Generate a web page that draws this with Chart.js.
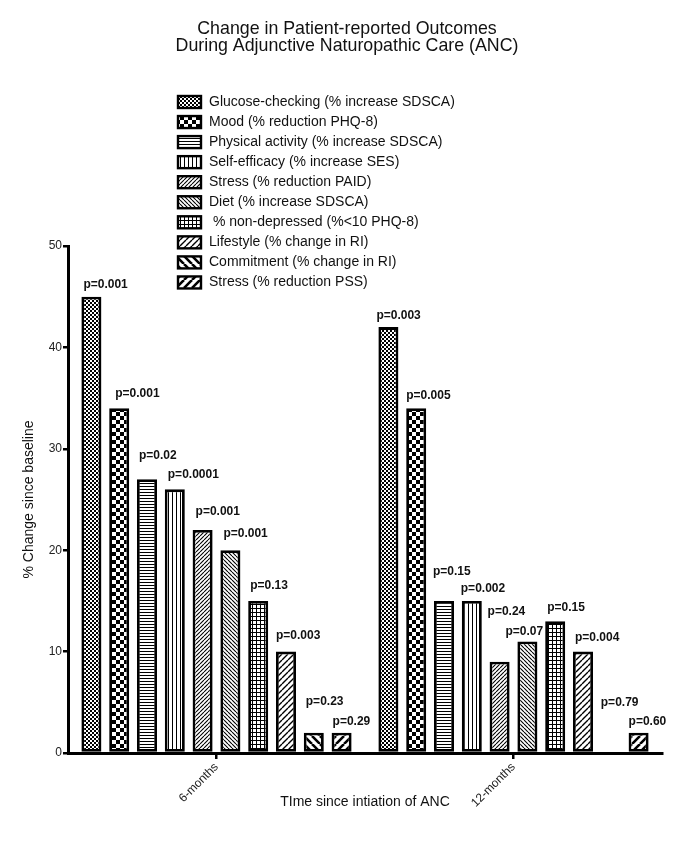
<!DOCTYPE html>
<html>
<head>
<meta charset="utf-8">
<title>Change in Patient-reported Outcomes</title>
<script src="https://cdn.jsdelivr.net/npm/chart.js@4/dist/chart.umd.min.js"></script>
<style>
  html, body { margin: 0; padding: 0; background: #fff; }
  #wrap { width: 685px; height: 850px; position: relative; }
</style>
</head>
<body>
<div id="wrap"><canvas id="ancChart"></canvas></div>
<script>
// data
const periods = ["6-months", "12-months"];
const outcomes = [
  "Glucose-checking (% increase SDSCA)",
  "Mood (% reduction PHQ-8)",
  "Physical activity (% increase SDSCA)",
  "Self-efficacy (% increase SES)",
  "Stress (% reduction PAID)",
  "Diet (% increase SDSCA)",
  " % non-depressed (%<10 PHQ-8)",
  "Lifestyle (% change in RI)",
  "Commitment (% change in RI)",
  "Stress (% reduction PSS)"
];
const sixMonths    = [45, 34, 27, 26, 22, 20, 15, 10, 2, 2];
const twelveMonths = [42, 34, 15, 15, 9, 11, 13, 10, 0, 2];
const pSixMonths    = ["p=0.001", "p=0.001", "p=0.02", "p=0.0001", "p=0.001", "p=0.001", "p=0.13", "p=0.003", "p=0.23", "p=0.29"];
const pTwelveMonths = ["p=0.003", "p=0.005", "p=0.15", "p=0.002", "p=0.24", "p=0.07", "p=0.15", "p=0.004", "p=0.79", "p=0.60"];
const yTicks = [0, 10, 20, 30, 40, 50];

// label placement (px above bar top, px right of bar left) — hand-staggered like the original
const pLift = [[12, 15, 24, 15, 18, 17, 15, 16, 31, 11], [11, 13, 29, 12, 50, 10, 13, 14, 50, 11]];
const pShift = [[2, 6, 2, 3, 3, 3, 2, 0, 2, 1], [-2, 0, -1, -1, -2, -12, 2, 2, 0, 0]];

const FONT = "Arial, 'Liberation Sans', Helvetica, sans-serif";
Chart.defaults.font.family = FONT;
Chart.defaults.color = "#111";

// black & white fill patterns, one per outcome
function tile(w, h, draw){
  const c = document.createElement("canvas");
  c.width = w; c.height = h;
  const g = c.getContext("2d");
  g.fillStyle = "#fff"; g.fillRect(0, 0, w, h);
  g.fillStyle = "#000"; g.strokeStyle = "#000";
  draw(g, w, h);
  return g.createPattern(c, "repeat");
}
function diag(n, lw, up){
  return tile(n, n, (g) => {
    g.lineWidth = lw;
    g.beginPath();
    for (const k of [-n, 0, n]) {
      if (up) { g.moveTo(k, n); g.lineTo(k + n, 0); }
      else    { g.moveTo(k, 0); g.lineTo(k + n, n); }
    }
    g.stroke();
  });
}
const patterns = [
  tile(4, 4, g => { g.fillRect(0, 0, 2, 2); g.fillRect(2, 2, 2, 2); }),
  tile(8, 8, g => { g.fillRect(0, 0, 4, 4); g.fillRect(4, 4, 4, 4); }),
  tile(1, 3, g => { g.fillRect(0, 0, 1, 1); }),
  tile(4, 1, g => { g.fillRect(0, 0, 1, 1); }),
  diag(4, 1.1, true),
  diag(4, 1.1, false),
  tile(4, 4, g => { g.fillRect(0, 0, 4, 1); g.fillRect(0, 0, 1, 4); }),
  diag(6, 1.4, true),
  diag(8, 2.6, false),
  diag(8, 2.6, true)
];

// p-value annotations above each bar
const pLabelPlugin = {
  id: "pLabels",
  afterDatasetsDraw(chart){
    const ctx = chart.ctx;
    const pv = [pSixMonths, pTwelveMonths];
    ctx.save();
    ctx.font = "bold 12px " + FONT;
    ctx.fillStyle = "#111";
    ctx.textAlign = "left";
    ctx.textBaseline = "middle";
    chart.data.datasets.forEach((ds, i) => {
      const meta = chart.getDatasetMeta(i);
      meta.data.forEach((bar, j) => {
        const x = bar.x - bar.width / 2 + pShift[j][i];
        const y = bar.y - pLift[j][i];
        ctx.fillText(pv[j][i], x, y);
      });
    });
    ctx.restore();
  }
};

// one-per-row legend, drawn over the upper plot like the original
const stackedLegend = {
  id: "stackedLegend",
  afterDraw(chart){
    const ctx = chart.ctx;
    const x0 = 178, y0 = 102, row = 20.05;
    ctx.save();
    ctx.font = "14px " + FONT;
    ctx.textBaseline = "middle";
    ctx.textAlign = "left";
    chart.data.datasets.forEach((ds, i) => {
      const y = y0 + i * row;
      ctx.fillStyle = ds.backgroundColor;
      ctx.fillRect(x0, y - 6, 23, 12);
      ctx.lineWidth = 2.4;
      ctx.strokeStyle = "#000";
      ctx.strokeRect(x0, y - 6, 23, 12);
      ctx.fillStyle = "#111";
      ctx.fillText(ds.label, x0 + 31, y);
    });
    ctx.restore();
  }
};

const datasets = outcomes.map((name, i) => ({
  label: name,
  data: [sixMonths[i], twelveMonths[i]],
  backgroundColor: patterns[i],
  borderColor: "#000",
  borderWidth: 2.8,
  borderSkipped: false,
  categoryPercentage: 0.936,
  barPercentage: 0.72
}));

new Chart(document.getElementById("ancChart"), {
  type: "bar",
  data: { labels: periods, datasets },
  plugins: [pLabelPlugin, stackedLegend],
  options: {
    responsive: true,
    maintainAspectRatio: false,
    animation: false,
    layout: { padding: { left: 32, right: 23, top: 0, bottom: 37 } },
    plugins: {
      legend: { display: false },
      tooltip: { enabled: false },
      title: {
        display: true,
        text: ["Change in Patient-reported Outcomes", "During Adjunctive Naturopathic Care (ANC)"],
        font: { size: 17.8, weight: "normal", lineHeight: "17.5px" },
        color: "#111",
        padding: { top: 20, bottom: 191 }
      }
    },
    scales: {
      x: {
        afterFit: s => { s.height = 60; },
        grid: { display: true, drawOnChartArea: false, drawTicks: true, tickLength: 6, color: "#000", lineWidth: 2.5, offset: false },
        border: { color: "#000", width: 3 },
        ticks: { font: { size: 12 }, color: "#222", minRotation: 45, maxRotation: 45, padding: 1 },
        title: { display: true, text: "TIme since intiation of ANC", font: { size: 14 }, color: "#111", padding: { top: 0, bottom: 2.6 } }
      },
      y: {
        min: 0, max: 50,
        afterFit: s => { s.width = 36; },
        afterBuildTicks: s => { s.ticks = yTicks.map(v => ({ value: v })); },
        grid: { display: true, drawOnChartArea: false, drawTicks: true, tickLength: 5, color: "#000", lineWidth: 2.5 },
        border: { color: "#000", width: 3 },
        ticks: { font: { size: 12 }, color: "#222", padding: 1 },
        title: { display: true, text: "% Change since baseline", font: { size: 14 }, color: "#111", padding: { top: -11.4, bottom: 0 } }
      }
    }
  }
});
</script>
</body>
</html>
